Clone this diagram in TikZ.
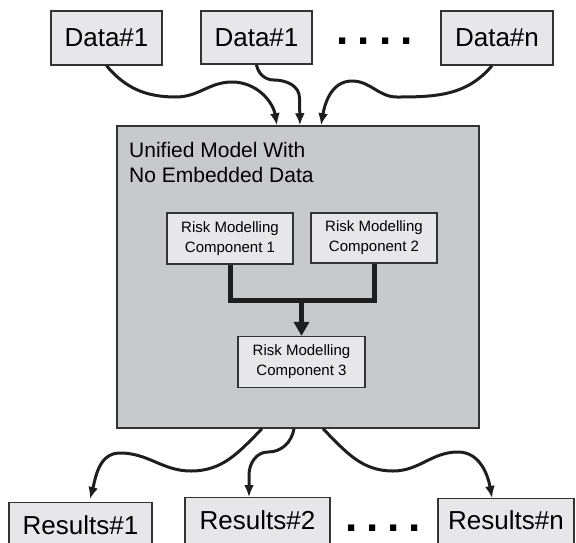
\documentclass[tikz,border=0pt]{standalone}
\usepackage{fontspec}
\setmainfont{Liberation Sans}
\usetikzlibrary{arrows.meta}
\definecolor{panel}{HTML}{C8C9CB}
\definecolor{cell}{HTML}{E7E7E9}
\definecolor{edge}{HTML}{333333}
\definecolor{ink}{HTML}{1E1E1E}
\begin{document}
\begin{tikzpicture}[x=1pt,y=1pt,
  box/.style={draw=edge,line width=1.4pt,fill=cell,inner sep=0pt,
    font=\fontsize{26}{30}\selectfont},
  res/.style={box,text height=19pt,text depth=20pt,anchor=north},
  compbox/.style={draw=edge,line width=1.2pt,fill=cell,align=center,
    inner sep=0pt,font=\fontsize{15}{20}\selectfont},
  ellipsis/.style={inner sep=0pt,font=\fontsize{44}{44}\selectfont\bfseries},
  flow/.style={ink,line width=3pt,-{Latex[length=12pt,width=10pt]}},
  merge/.style={ink,line width=5pt,line join=miter}]
\useasboundingbox (0,0) rectangle (576,-542);
\clip (0,0) rectangle (576,-542);

% input data sets
\node[box,minimum width=111pt,minimum height=54pt] (d1) at (106.5,-38) {Data\#1};
\node[box,minimum width=111pt,minimum height=53pt] (d2) at (256.5,-37.5) {Data\#1};
\node[box,minimum width=112pt,minimum height=54pt] (dn) at (497,-38) {Data\#n};
\node[ellipsis] (topdots) at (374.5,-41) {.\hspace{9pt}.\hspace{9pt}.\hspace{9pt}.};

% the unified model
\node[draw=edge,line width=1.6pt,fill=panel,minimum width=362pt,
  minimum height=302pt,inner sep=0pt] (model) at (298,-277) {};
\node[anchor=north west,align=left,inner sep=0pt,
  font=\fontsize{21}{25}\selectfont] (title) at (129,-142)
  {Unified Model With\\No Embedded Data};

\node[compbox,minimum width=126pt,minimum height=51pt] (c1) at (230,-238.5)
  {Risk Modelling\\Component 1};
\node[compbox,minimum width=126pt,minimum height=50pt] (c2) at (374,-238)
  {Risk Modelling\\Component 2};
\node[compbox,minimum width=127pt,minimum height=51pt] (c3) at (301.5,-362)
  {Risk Modelling\\Component 3};

\coordinate (j) at (c3.north |- 0,-300);
\draw[merge] (c1.south) |- (j) -| (c2.south);
\draw[merge,-{Triangle[length=14pt,width=15pt]}] (j) -- (c3.north);

% results
\node[res,inner ysep=13pt,minimum width=143pt] (r1) at (80.5,-502) {Results\#1};
\node[res,inner ysep=13pt,minimum width=145pt] (r2) at (257.5,-497) {Results\#2};
\node[res,inner ysep=12pt,minimum width=136pt] (rn) at (506,-498) {Results\#n};
\node[ellipsis] (botdots) at (383,-528) {.\hspace{9pt}.\hspace{9pt}.\hspace{9pt}.};

% connector end points
\coordinate (in1) at ([xshift=-21pt]model.north);
\coordinate (in2) at ([xshift=2pt]model.north);
\coordinate (in3) at ([xshift=23pt]model.north);
\coordinate (s3) at ([xshift=-5pt]dn.south);
\coordinate (o1) at ([xshift=-36pt]model.south);
\coordinate (o2) at ([xshift=-4pt]model.south);
\coordinate (o3) at ([xshift=25pt]model.south);
\coordinate (t1) at ([xshift=9.5pt,yshift=3pt]r1.north);
\coordinate (t2) at ([xshift=-8.5pt]r2.north);
\coordinate (t3) at ([xshift=-14pt]rn.north);

% data flowing in
\draw[flow] (d1.south) to[out=-50,in=180] (176,-97) to[out=0,in=180] (232,-82)
  to[out=0,in=100] (in1);
\draw[flow] (d2.south) to[out=-80,in=180] (274,-80) to[out=0,in=90] (299.5,-98)
  -- (in2);
\draw[flow] (s3) to[out=-130,in=0] (397,-97) to[out=180,in=0] (352,-81)
  to[out=180,in=80] (in3);

% results flowing out
\draw[flow] (o1) to[out=-135,in=0] (191,-471) to[out=180,in=0] (120,-453)
  to[out=180,in=75] (t1);
\draw[flow] (o2) to[out=-100,in=0] (268,-452) to[out=180,in=90] (249,-475)
  -- (t2);
\draw[flow] (o3) to[out=-45,in=180] (393,-471) to[out=0,in=180] (458,-452)
  to[out=0,in=100] (t3);
\end{tikzpicture}
\end{document}
